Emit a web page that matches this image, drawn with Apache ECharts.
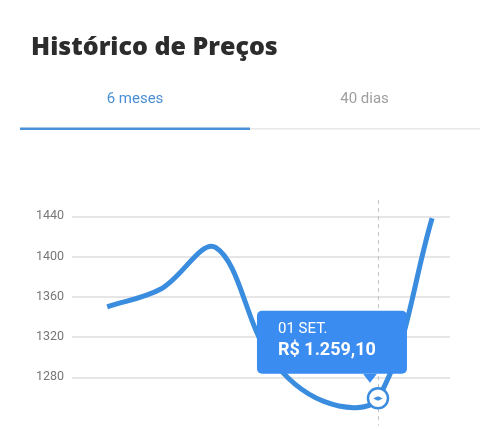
<!DOCTYPE html>
<html><head><meta charset="utf-8">
<script src="https://cdn.jsdelivr.net/npm/echarts@6/dist/echarts.min.js"></script>
<style>html,body{margin:0;padding:0;background:#fff}#c{width:500px;height:429px}</style>
</head><body><div id="c"></div>
<script>
const titleText = 'Histórico de Preços';
const tabs = ['6 meses', '40 dias'];
const dates = ['01 ABR.', '01 MAI.', '01 JUN.', '01 JUL.', '01 AGO.', '01 SET.', '01 OUT.'];
const prices = [1350, 1368, 1409, 1301, 1256, 1259.10, 1438];
const yTicks = [1280, 1320, 1360, 1400, 1440];
const selectedIndex = 5;

const BLUE = '#3a8dde';
const TIP = '#3b8cf0';
const SMOOTH = 0.35;

function brl(v) {
  const parts = v.toFixed(2).split('.');
  const int = parts[0].replace(/\B(?=(\d{3})+(?!\d))/g, '.');
  return 'R$ ' + int + ',' + parts[1];
}

// cardinal-style spline through the points (pixel space, from the axes' scales)
function splinePath(pts, s) {
  const n = pts.length;
  const before = [], after = [];
  for (let i = 0; i < n; i++) {
    const cur = pts[i];
    const prev = pts[i - 1] || cur;
    const next = pts[i + 1] || cur;
    const vx = next[0] - prev[0], vy = next[1] - prev[1];
    const lp = Math.hypot(cur[0] - prev[0], cur[1] - prev[1]);
    const ln = Math.hypot(next[0] - cur[0], next[1] - cur[1]);
    const r = (lp + ln) ? ln / (lp + ln) : 0.5;
    after.push([cur[0] + vx * s * r, cur[1] + vy * s * r]);
    before.push([cur[0] - vx * s * (1 - r), cur[1] - vy * s * (1 - r)]);
  }
  let d = 'M' + pts[0][0] + ' ' + pts[0][1];
  for (let i = 0; i < n - 1; i++) {
    d += ' C' + after[i][0] + ' ' + after[i][1] + ' ' + before[i + 1][0] + ' ' + before[i + 1][1] + ' ' + pts[i + 1][0] + ' ' + pts[i + 1][1];
  }
  return d;
}

const yMin = 1200, yMax = 1480, yStep = 40;
const tickVals = [];
for (let v = yMin; v <= yMax; v += yStep) tickVals.push(v);

const chart = echarts.init(document.getElementById('c'), null, {renderer: 'canvas'});
chart.setOption({
  animation: false,
  backgroundColor: '#fff',
  graphic: [
    {type: 'text', style: {x: 31, y: 48, text: titleText, fontFamily: 'Open Sans', fontWeight: 800, fontSize: 25, fill: '#2c2c2c', align: 'left', verticalAlign: 'middle'}},
    {type: 'text', style: {x: 135, y: 99, text: tabs[0], fontFamily: 'Roboto', fontSize: 15, fill: '#4a8fd6', align: 'center', verticalAlign: 'middle'}},
    {type: 'text', style: {x: 364.5, y: 99, text: tabs[1], fontFamily: 'Roboto', fontSize: 15, fill: '#9e9e9e', align: 'center', verticalAlign: 'middle'}},
    {type: 'rect', shape: {x: 250, y: 128, width: 230, height: 1.5}, style: {fill: '#e8e8e8'}},
    {type: 'rect', shape: {x: 20, y: 127.5, width: 230, height: 2.5}, style: {fill: '#4a90d9'}}
  ],
  grid: {left: 72, right: 50, top: 176, height: (yMax - yMin) * 1.00625, containLabel: false, outerBoundsMode: 'none'},
  xAxis: {type: 'value', min: -0.65, max: 6.33, show: false},
  yAxis: {
    type: 'value', min: yMin, max: yMax, interval: yStep,
    axisLine: {show: false}, axisTick: {show: false},
    axisLabel: {
      margin: 8, color: '#777', fontFamily: 'Roboto', fontSize: 12.5,
      formatter: v => yTicks.includes(v) ? String(v) : ''
    },
    splitLine: {lineStyle: {width: 1.5, color: tickVals.map(v => yTicks.includes(v) ? '#dedede' : 'rgba(0,0,0,0)')}}
  },
  series: [
    {
      type: 'scatter', z: 1, silent: true, symbolSize: 0,
      data: [[selectedIndex, prices[selectedIndex]]],
      markLine: {
        silent: true, symbol: ['none', 'none'], label: {show: false},
        lineStyle: {type: [4, 4], color: '#c2c2c2', width: 1},
        data: [[{coord: [selectedIndex, 1456]}, {coord: [selectedIndex, 1232]}]]
      }
    },
    {
      type: 'custom', z: 3, silent: true,
      data: prices.map((v, i) => [i, v]),
      renderItem: function (params, api) {
        if (params.dataIndex !== 0) return null;
        const pts = prices.map((v, i) => api.coord([i, v]));
        return {
          type: 'path',
          shape: {pathData: splinePath(pts, SMOOTH)},
          style: {fill: 'none', stroke: BLUE, lineWidth: 5, lineJoin: 'round', lineCap: 'butt'}
        };
      }
    },
    {
      type: 'scatter', z: 10, silent: true,
      data: [[selectedIndex, prices[selectedIndex]]],
      symbol: 'path://M0,0L14,0L7,9Z', symbolSize: [14, 9], symbolOffset: [-8, -20],
      itemStyle: {color: TIP, opacity: 1},
      label: {
        show: true, position: 'top', distance: 0, offset: [-38, 0],
        backgroundColor: TIP, borderRadius: 5, padding: [8, 21, 11, 21], width: 108,
        formatter: '{a|' + dates[selectedIndex] + '}\n{b|' + brl(prices[selectedIndex]) + '}',
        rich: {
          a: {fontFamily: 'Roboto', fontSize: 15, lineHeight: 20, color: '#fff', align: 'left'},
          b: {fontFamily: 'Roboto', fontSize: 18, fontWeight: 'bold', lineHeight: 24, color: '#fff', align: 'left'}
        }
      }
    },
    {
      type: 'scatter', z: 11, silent: true,
      data: [[selectedIndex, prices[selectedIndex]]],
      symbol: 'circle', symbolSize: 20,
      itemStyle: {color: '#fff', borderColor: BLUE, borderWidth: 2.5, opacity: 1},
      label: {show: true, position: 'inside', formatter: '◀▶', fontFamily: 'DejaVu Sans', fontSize: 6, color: BLUE}
    }
  ]
});
</script>
</body></html>
